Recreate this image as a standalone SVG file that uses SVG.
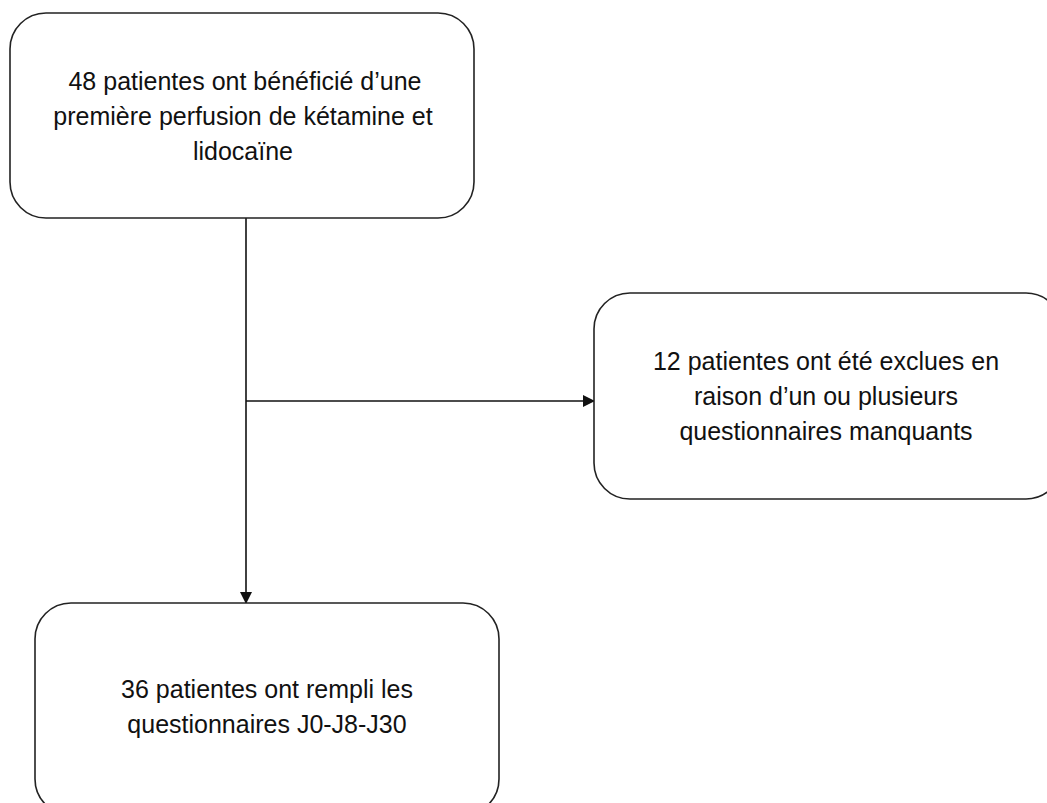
<svg xmlns="http://www.w3.org/2000/svg" width="1047" height="803" viewBox="0 0 1047 803">
<style>
.box{fill:#fff;stroke:#222;stroke-width:1.6}
.t{font-family:"Liberation Sans",Arial,sans-serif;font-size:25px;fill:#111;text-anchor:middle}
.c{stroke:#111;stroke-width:1.6;fill:none}
</style>
<defs>
<marker id="ar" markerWidth="12" markerHeight="12" refX="11" refY="6" orient="auto" markerUnits="userSpaceOnUse">
<path d="M0,0 L12,6 L0,12 Z" fill="#111"/>
</marker>
</defs>
<rect width="1047" height="803" fill="#fff"/>
<g id="connectors">
<line class="c" x1="246" y1="218" x2="246" y2="603" marker-end="url(#ar)"/>
<line class="c" x1="246" y1="401" x2="594" y2="401" marker-end="url(#ar)"/>
</g>
<g id="node-start">
<rect class="box" x="10" y="13" width="464" height="205" rx="36" ry="36"/>
<text class="t" x="245" y="90">48 patientes ont bénéficié d’une</text>
<text class="t" x="243" y="125">première perfusion de kétamine et</text>
<text class="t" x="243" y="160">lidocaïne</text>
</g>
<g id="node-excluded">
<rect class="box" x="594" y="293" width="468" height="206" rx="36" ry="36"/>
<text class="t" x="826" y="370">12 patientes ont été exclues en</text>
<text class="t" x="826" y="405">raison d’un ou plusieurs</text>
<text class="t" x="826" y="440">questionnaires manquants</text>
</g>
<g id="node-final">
<rect class="box" x="35" y="603" width="464" height="212" rx="36" ry="36"/>
<text class="t" x="267" y="698">36 patientes ont rempli les</text>
<text class="t" x="267" y="733">questionnaires J0-J8-J30</text>
</g>
</svg>
